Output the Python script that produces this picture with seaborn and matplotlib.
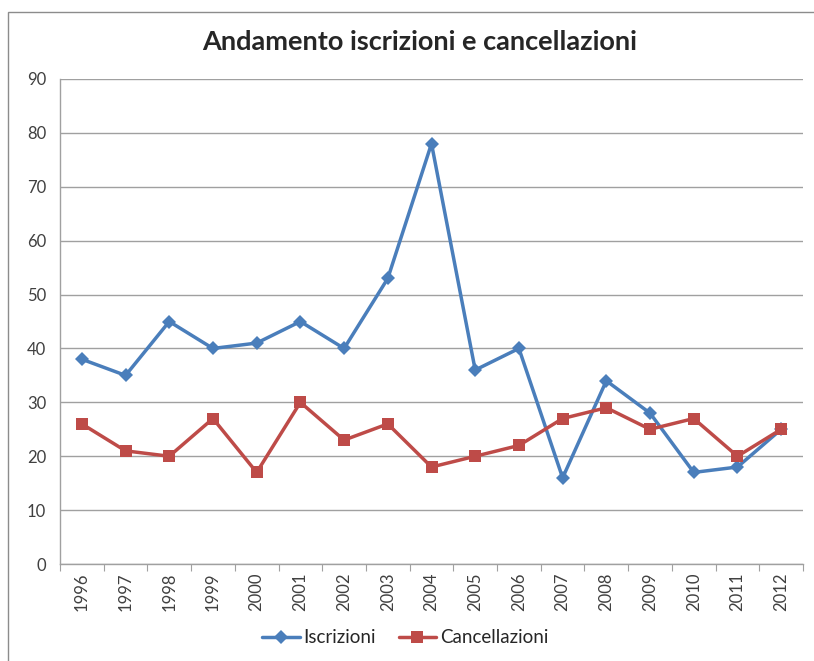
import matplotlib
matplotlib.use("Agg")
import matplotlib.pyplot as plt
import matplotlib.patches as mpatches
from matplotlib.lines import Line2D
import pandas as pd
import seaborn as sns

years = ["1996", "1997", "1998", "1999", "2000", "2001", "2002", "2003", "2004",
         "2005", "2006", "2007", "2008", "2009", "2010", "2011", "2012"]
iscrizioni = [38, 35, 45, 40, 41, 45, 40, 53, 78, 36, 40, 16, 34, 28, 17, 18, 25]
cancellazioni = [26, 21, 20, 27, 17, 30, 23, 26, 18, 20, 22, 27, 29, 25, 27, 20, 25]

blue = "#4A7EBB"
red = "#BE4B48"

df = pd.DataFrame({
    "pos": list(range(len(years))) * 2,
    "value": iscrizioni + cancellazioni,
    "serie": ["Iscrizioni"] * len(years) + ["Cancellazioni"] * len(years),
})

sns.set_style("white")
plt.rcParams["font.family"] = ["Lato", "DejaVu Sans"]

fig = plt.figure(figsize=(8.14, 6.61), dpi=100)
ax = fig.add_axes([0.0737, 0.1467, 0.9128, 0.7338])

sns.lineplot(data=df, x="pos", y="value", hue="serie", style="serie",
             palette={"Iscrizioni": blue, "Cancellazioni": red},
             markers={"Iscrizioni": "D", "Cancellazioni": "s"},
             dashes=False, linewidth=2.5, markeredgewidth=0,
             ax=ax, legend=False)
for line, ms in zip(ax.lines, [7, 9]):
    line.set_markersize(ms)

ax.set_xlim(-0.5, len(years) - 0.5)
ax.set_ylim(0, 90)
ax.set_yticks(range(0, 91, 10))
ax.yaxis.grid(True, color="#A0A0A0", linewidth=1)
ax.set_axisbelow(True)
# category boundaries as tick marks, year labels centred between them
ax.set_xticks([i + 0.5 for i in range(-1, len(years))])
ax.set_xticklabels([])
ax.set_xticks(range(len(years)), minor=True)
ax.set_xticklabels(years, minor=True, rotation=90, fontsize=12, color="#404040")
ax.tick_params(axis="x", which="major", length=5, color="#A0A0A0", bottom=True)
ax.tick_params(axis="x", which="minor", length=0, pad=6)
ax.tick_params(axis="y", length=0, labelsize=12, labelcolor="#404040", pad=10)
ax.set_xlabel("")
ax.set_ylabel("")
for side in ["top", "right"]:
    ax.spines[side].set_visible(False)
for side in ["left", "bottom"]:
    ax.spines[side].set_color("#A0A0A0")
    ax.spines[side].set_linewidth(1)

fig.suptitle("Andamento iscrizioni e cancellazioni", fontsize=19.5, fontweight="bold",
             x=0.515, y=0.937, va="center")

handles = [Line2D([], [], color=blue, marker="D", markersize=7, linewidth=2.5, markeredgewidth=0),
           Line2D([], [], color=red, marker="s", markersize=9, linewidth=2.5, markeredgewidth=0)]
fig.legend(handles, ["Iscrizioni", "Cancellazioni"], loc="center", ncol=2,
           bbox_to_anchor=(0.498, 0.035), frameon=False, fontsize=13.5,
           handlelength=2.0, handletextpad=0.2, columnspacing=1.2)

# outer chart border (top and left visible)
fig.patches.append(mpatches.Rectangle((8 / 814, -0.1), 1.2, 1.1 - 12 / 661,
                                      transform=fig.transFigure, fill=False,
                                      edgecolor="#8C8C8C", linewidth=1))

fig.savefig("out.png", dpi=100)
